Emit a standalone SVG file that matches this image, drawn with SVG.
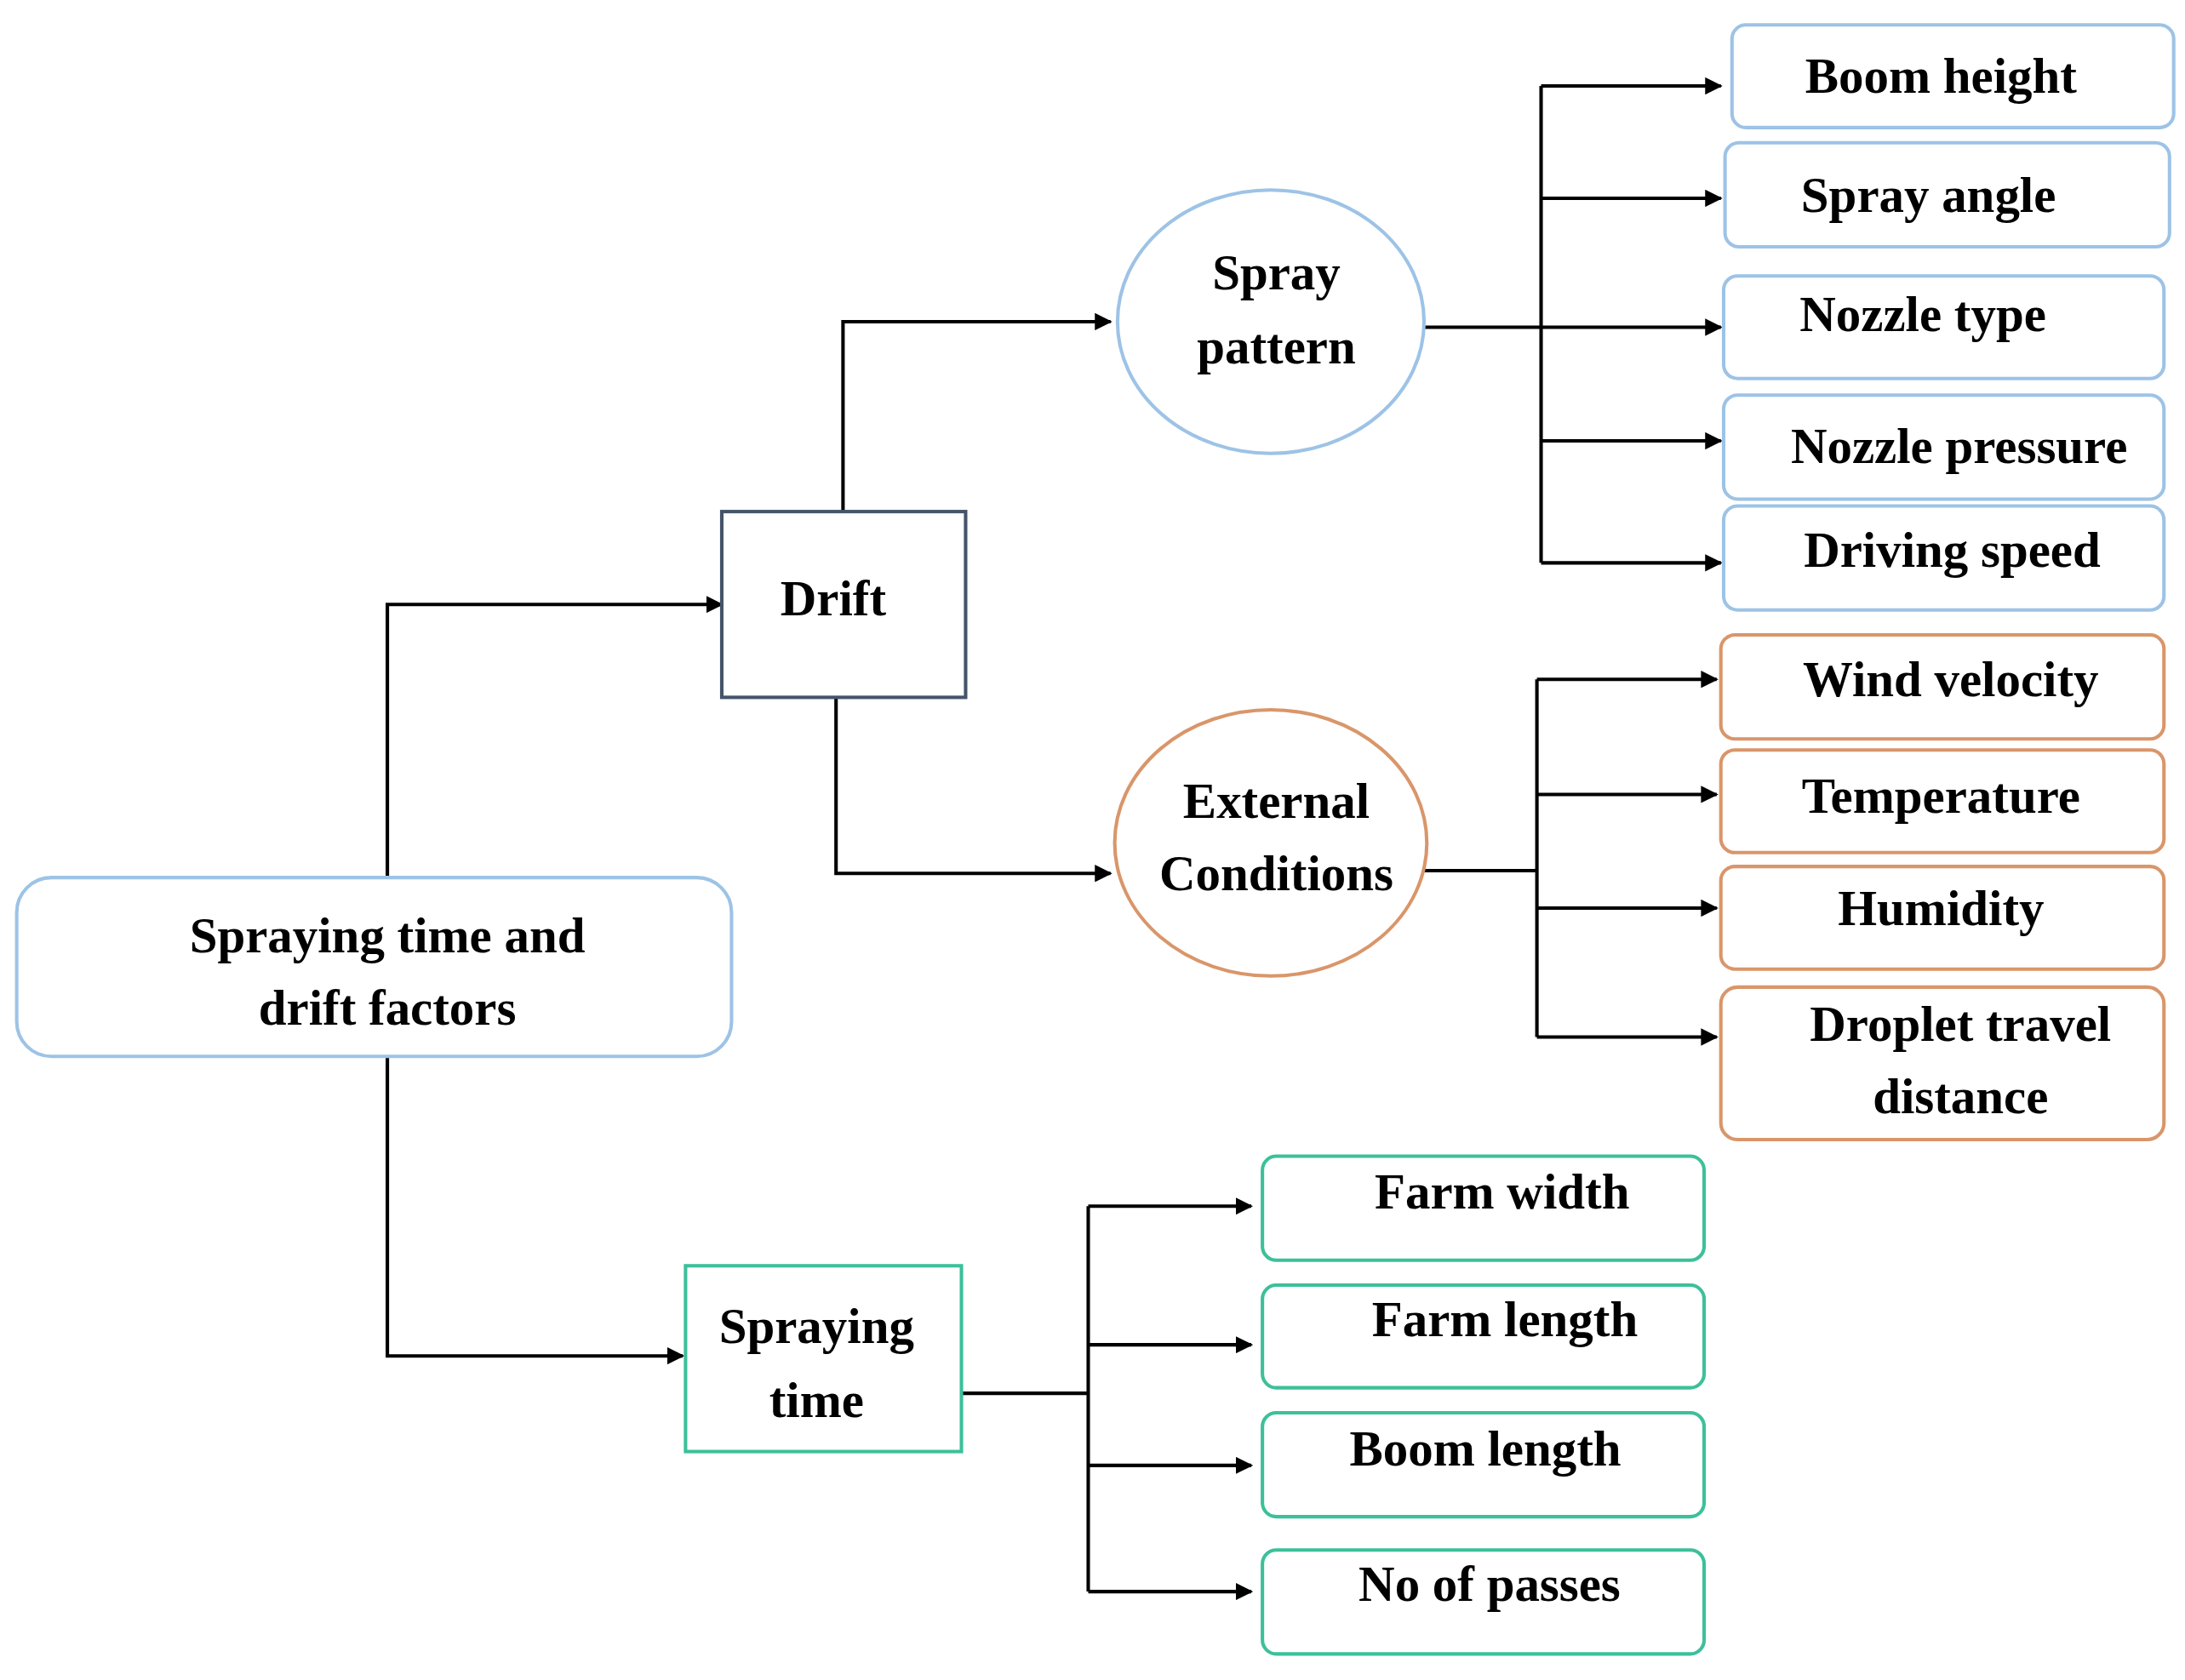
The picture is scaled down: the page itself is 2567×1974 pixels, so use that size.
<svg xmlns="http://www.w3.org/2000/svg" width="2567" height="1974" viewBox="0 0 2567 1974">
<defs>
<marker id="ah" viewBox="0 0 10 10" refX="9" refY="5" markerWidth="5" markerHeight="5" orient="auto"><path d="M0,0 L10,5 L0,10 z" fill="#000"/></marker>
<style>
.t{font-family:"Liberation Serif",serif;font-weight:bold;font-size:36px;fill:#000;text-anchor:middle}
.b{fill:#fff;stroke:#9dc3e6;stroke-width:2.5}
.o{fill:#fff;stroke:#d9966a;stroke-width:2.5}
.g{fill:#fff;stroke:#3cc09a;stroke-width:2.5}
.c{fill:none;stroke:#000;stroke-width:2.5}
.a{marker-end:url(#ah)}
</style>
</defs>
<rect width="2567" height="1974" fill="#fff"/>
<g transform="scale(1.637,1.629)">
<g id="connectors">
<path class="c a" d="M278,633 V436 H518"/>
<path class="c a" d="M278,762 V978 H490"/>
<path class="c a" d="M605,369 V232 H797"/>
<path class="c a" d="M600,503 V630 H797"/>
<path class="c a" d="M1022,236 H1235"/>
<path class="c" d="M1106,62 V406"/>
<path class="c a" d="M1106,62 H1235"/>
<path class="c a" d="M1106,143 H1235"/>
<path class="c a" d="M1106,318 H1235"/>
<path class="c a" d="M1106,406 H1235"/>
<path class="c" d="M1022,628 H1103 M1103,490 V748"/>
<path class="c a" d="M1103,490 H1232"/>
<path class="c a" d="M1103,573 H1232"/>
<path class="c a" d="M1103,655 H1232"/>
<path class="c a" d="M1103,748 H1232"/>
<path class="c" d="M690,1005 H781 M781,870 V1148"/>
<path class="c a" d="M781,870 H898"/>
<path class="c a" d="M781,970 H898"/>
<path class="c a" d="M781,1057 H898"/>
<path class="c a" d="M781,1148 H898"/>
</g>
<g id="root"><rect class="b" x="12" y="633" width="513" height="129" rx="25" stroke="#8fb0d0"/><text class="t" x="278" y="687">Spraying time and</text><text class="t" x="278" y="739">drift factors</text></g>
<g id="drift"><rect x="518" y="369" width="175" height="134" fill="#fff" stroke="#44546a" stroke-width="2.5"/><text class="t" x="598" y="444">Drift</text></g>
<g id="spraypattern"><ellipse class="b" cx="912" cy="232" rx="110" ry="95"/><text class="t" x="916" y="209">Spray</text><text class="t" x="916" y="262">pattern</text></g>
<g id="external"><ellipse class="o" cx="912" cy="608" rx="112" ry="96"/><text class="t" x="916" y="590">External</text><text class="t" x="916" y="642">Conditions</text></g>
<g id="sprayingtime"><rect class="g" x="492" y="913" width="198" height="134"/><text class="t" x="586" y="969">Spraying</text><text class="t" x="586" y="1022">time</text></g>
<g id="boomheight"><rect class="b" x="1243" y="18" width="317" height="74" rx="10"/><text class="t" x="1393" y="67">Boom height</text></g>
<g id="sprayangle"><rect class="b" x="1238" y="103" width="319" height="75" rx="10"/><text class="t" x="1384" y="153">Spray angle</text></g>
<g id="nozzletype"><rect class="b" x="1237" y="199" width="316" height="74" rx="10"/><text class="t" x="1380" y="239">Nozzle type</text></g>
<g id="nozzlepressure"><rect class="b" x="1237" y="285" width="316" height="75" rx="10"/><text class="t" x="1406" y="334">Nozzle pressure</text></g>
<g id="drivingspeed"><rect class="b" x="1237" y="365" width="316" height="75" rx="10"/><text class="t" x="1401" y="409">Driving speed</text></g>
<g id="windvelocity"><rect class="o" x="1235" y="458" width="318" height="75" rx="10"/><text class="t" x="1400" y="502">Wind velocity</text></g>
<g id="temperature"><rect class="o" x="1235" y="541" width="318" height="74" rx="10"/><text class="t" x="1393" y="586">Temperature</text></g>
<g id="humidity"><rect class="o" x="1235" y="625" width="318" height="74" rx="10"/><text class="t" x="1393" y="667">Humidity</text></g>
<g id="droplet"><rect class="o" x="1235" y="712" width="318" height="110" rx="12"/><text class="t" x="1407" y="751">Droplet travel</text><text class="t" x="1407" y="803">distance</text></g>
<g id="farmwidth"><rect class="g" x="906" y="834" width="317" height="75" rx="10"/><text class="t" x="1078" y="872">Farm width</text></g>
<g id="farmlength"><rect class="g" x="906" y="927" width="317" height="74" rx="10"/><text class="t" x="1080" y="964">Farm length</text></g>
<g id="boomlength"><rect class="g" x="906" y="1019" width="317" height="75" rx="10"/><text class="t" x="1066" y="1057">Boom length</text></g>
<g id="passes"><rect class="g" x="906" y="1118" width="317" height="75" rx="10"/><text class="t" x="1069" y="1155">No of passes</text></g>
</g>
</svg>
